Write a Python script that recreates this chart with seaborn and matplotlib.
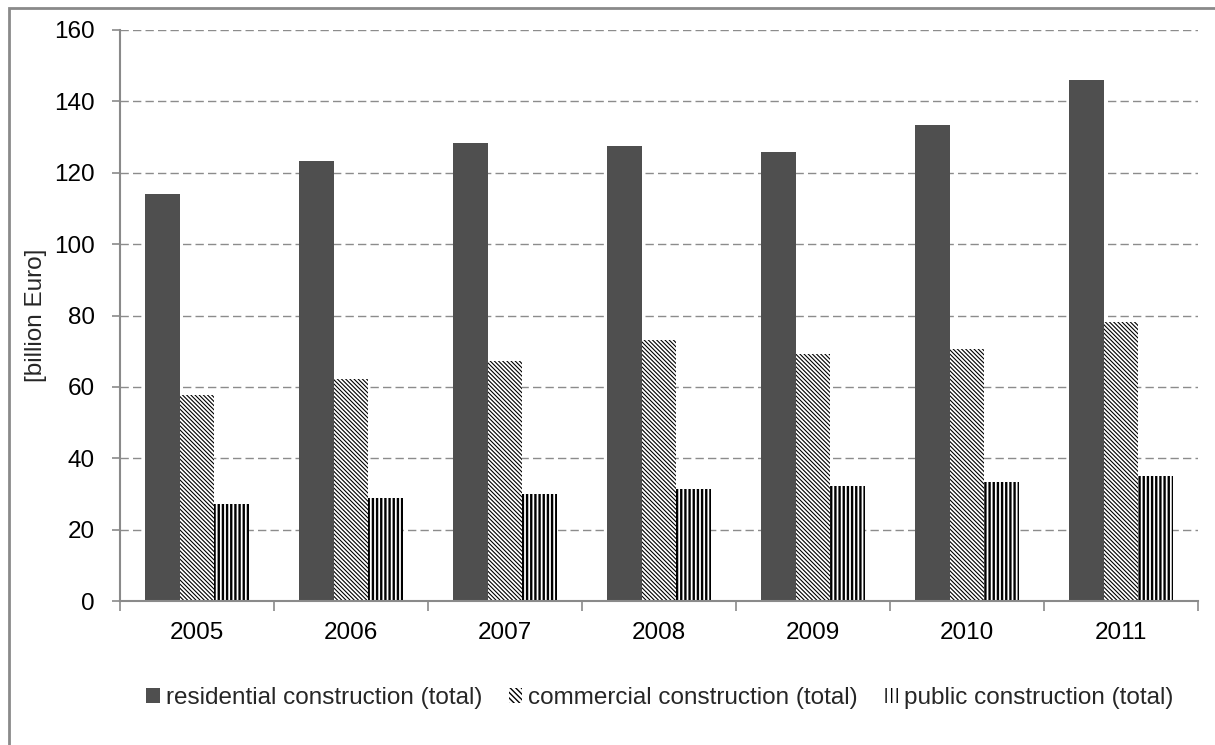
import numpy as np
import pandas as pd
import matplotlib
matplotlib.use("Agg")
import matplotlib.pyplot as plt
from matplotlib.patches import Rectangle, Patch
from matplotlib.ticker import FixedLocator, MultipleLocator
import seaborn as sns

years = ["2005", "2006", "2007", "2008", "2009", "2010", "2011"]
residential = [114.0, 123.2, 128.3, 127.5, 125.7, 133.3, 146.0]
commercial = [57.7, 62.2, 67.2, 73.0, 69.2, 70.5, 78.2]
public = [27.2, 28.9, 30.1, 31.3, 32.1, 33.4, 35.1]
series_names = ["residential construction (total)",
                "commercial construction (total)",
                "public construction (total)"]

df = pd.DataFrame({
    "year": years * 3,
    "value": residential + commercial + public,
    "series": [series_names[0]] * 7 + [series_names[1]] * 7 + [series_names[2]] * 7,
})

sns.set_theme(style="white")
plt.rcParams["font.family"] = ["Liberation Sans", "DejaVu Sans"]

fig = plt.figure(figsize=(12.15, 7.45), dpi=100)
ax = fig.add_axes([120 / 1215, 1 - 601 / 745, 1078 / 1215, 571 / 745])

palette = {series_names[0]: "#4f4f4f", series_names[1]: "white", series_names[2]: "white"}
sns.barplot(data=df, x="year", y="value", hue="series", hue_order=series_names,
            palette=palette, width=0.68, gap=0, saturation=1, ax=ax,
            legend=False, linewidth=0, edgecolor="black")

hatches = {1: ("\\\\\\\\\\\\\\\\", 0.8), 2: ("||||", 1.7)}
for i, cont in enumerate(ax.containers):
    for bar in cont:
        bar.set_linewidth(0)
        if i in hatches:
            h, lw = hatches[i]
            bar.set_facecolor("white")
            bar.set_edgecolor("black")
            bar.set_hatch(h)
            if hasattr(bar, "set_hatch_linewidth"):
                bar.set_hatch_linewidth(lw)

ax.set_xlim(-0.5, 6.5)
ax.set_ylim(0, 160)
ax.yaxis.set_major_locator(MultipleLocator(20))
ax.set_xlabel("")
ax.set_ylabel("[billion Euro]", fontsize=17.5, labelpad=5)

ax.grid(axis="y", color="#8c8c8c", linestyle=(0, (6, 3)), linewidth=1.0)
ax.set_axisbelow(True)
for s in ["top", "right"]:
    ax.spines[s].set_visible(False)
for s in ["left", "bottom"]:
    ax.spines[s].set_color("#8a8a8a")
    ax.spines[s].set_linewidth(1.5)

ax.tick_params(axis="y", which="major", left=True, length=6, width=1.2,
               color="#8a8a8a", labelsize=17.5, pad=12, labelcolor="black")
ax.tick_params(axis="x", which="major", bottom=False, labelsize=17.5, pad=9,
               labelcolor="black")
ax.xaxis.set_minor_locator(FixedLocator(np.arange(-0.5, 7.0, 1.0)))
ax.tick_params(axis="x", which="minor", bottom=True, length=7, width=1.2,
               color="#8a8a8a")

handles = [
    Patch(facecolor="#4f4f4f", linewidth=0),
    Patch(facecolor="white", edgecolor="black", hatch="\\\\\\\\\\\\", linewidth=0),
    Patch(facecolor="white", edgecolor="black", hatch="|||", linewidth=0),
]
fig.legend(handles, series_names, loc="center", bbox_to_anchor=(660 / 1215, 1 - 698 / 745),
           ncol=3, frameon=False, fontsize=17.5, handlelength=0.55, handleheight=0.55,
           handletextpad=0.25, columnspacing=1.1)

fig.patches.append(Rectangle((9 / 1215, -0.05), 1.1, 1 - 8 / 745 + 0.05,
                             transform=fig.transFigure, fill=False,
                             edgecolor="#8a8a8a", linewidth=2.0, zorder=0))

fig.savefig("out.png", dpi=100)
